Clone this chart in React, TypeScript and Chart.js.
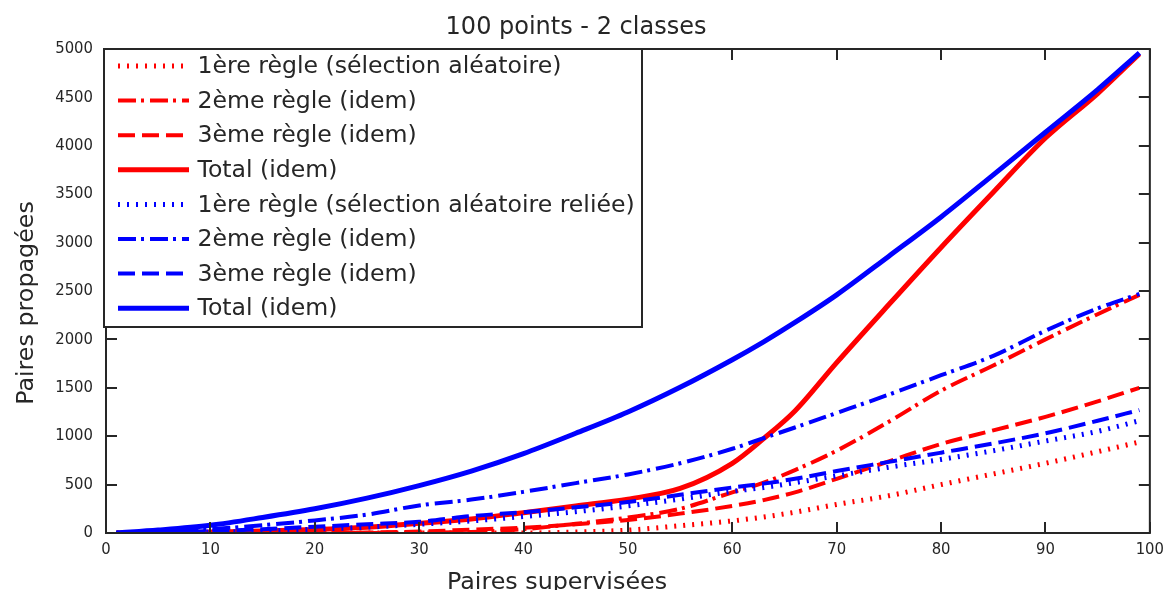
import React, { useEffect, useRef } from "react";
import { Chart, registerables } from "chart.js";

Chart.register(...registerables);

const TITLE = "100 points - 2 classes";
const X_LABEL = "Paires supervisées";
const Y_LABEL = "Paires propagées";

const xTicks = [0, 10, 20, 30, 40, 50, 60, 70, 80, 90, 100];
const yTicks = [0, 500, 1000, 1500, 2000, 2500, 3000, 3500, 4000, 4500, 5000];

const pairsSupervised = [1, 5, 10, 15, 20, 25, 30, 35, 40, 45, 50, 55, 60, 63, 66, 70, 75, 80, 85, 90, 95, 99];

// Sélection aléatoire (rouge)
const randRule1 = [0, 0, 0, 0, 0, 0, 0, 0, 0, 10, 30, 75, 125, 165, 215, 295, 385, 500, 610, 720, 840, 940];
const randRule2 = [0, 0, 0, 0, 0, 0, 5, 10, 40, 95, 160, 250, 420, 520, 650, 850, 1150, 1470, 1730, 2000, 2260, 2460];
const randRule3 = [0, 0, 0, 0, 0, 5, 15, 35, 55, 90, 135, 200, 280, 340, 420, 560, 740, 920, 1060, 1200, 1360, 1500];
const randTotal = [0, 0, 10, 20, 35, 60, 100, 145, 210, 280, 350, 460, 720, 975, 1260, 1760, 2360, 2950, 3520, 4080, 4540, 4950];

// Sélection aléatoire reliée (bleu)
const linkRule1 = [0, 0, 10, 20, 40, 60, 90, 125, 170, 220, 280, 350, 430, 470, 520, 590, 680, 760, 850, 950, 1050, 1160];
const linkRule2 = [0, 10, 40, 80, 130, 190, 285, 345, 425, 515, 605, 720, 870, 980, 1090, 1240, 1430, 1630, 1830, 2090, 2320, 2470];
const linkRule3 = [0, 5, 20, 40, 65, 90, 115, 175, 215, 265, 320, 395, 470, 510, 560, 640, 735, 830, 925, 1030, 1160, 1270];
const linkTotal = [0, 30, 80, 160, 250, 360, 490, 640, 820, 1030, 1250, 1505, 1790, 1975, 2175, 2460, 2860, 3265, 3700, 4140, 4580, 4960];

const LABELS = [
  "1ère règle (sélection aléatoire)",
  "2ème règle (idem)",
  "3ème règle (idem)",
  "Total (idem)",
  "1ère règle (sélection aléatoire reliée)",
  "2ème règle (idem)",
  "3ème règle (idem)",
  "Total (idem)",
];

const RED = "#ff0000";
const BLUE = "#0000ff";
const TEXT = "#262626";
const DOTTED = [2, 7];
const DASHDOT = [18, 5, 3, 6];
const DASHED = [17, 7];
const MAIN_FONT = '"DejaVu Sans", sans-serif';
const TICK_FONT = '"DejaVu Sans Condensed", "Liberation Sans Narrow", sans-serif';

const toPoints = (ys: number[]) => pairsSupervised.map((x, i) => ({ x, y: ys[i] }));

const decorPlugin = {
  id: "decor",
  afterDatasetsDraw(chart: any) {
    const { ctx, chartArea: a, scales } = chart;
    const xs = scales.x;
    const ys = scales.y;
    const TL = 11;
    ctx.save();
    ctx.strokeStyle = TEXT;
    ctx.lineWidth = 2;
    ctx.setLineDash([]);
    ctx.beginPath();
    xs.ticks.forEach((t: any) => {
      const px = Math.round(xs.getPixelForValue(t.value));
      ctx.moveTo(px, a.bottom);
      ctx.lineTo(px, a.bottom - TL);
      ctx.moveTo(px, a.top);
      ctx.lineTo(px, a.top + TL);
    });
    ys.ticks.forEach((t: any) => {
      const py = Math.round(ys.getPixelForValue(t.value));
      ctx.moveTo(a.left, py);
      ctx.lineTo(a.left + TL, py);
      ctx.moveTo(a.right, py);
      ctx.lineTo(a.right - TL, py);
    });
    ctx.stroke();
    ctx.strokeRect(a.left, a.top, a.right - a.left, a.bottom - a.top);

    // legend inside the plot area
    const bx = a.left - 2;
    const by = a.top;
    const bw = 538;
    const bh = 278;
    ctx.fillStyle = "#ffffff";
    ctx.fillRect(bx, by, bw, bh);
    ctx.strokeRect(bx, by, bw, bh);
    ctx.font = "23.6px " + MAIN_FONT;
    ctx.textBaseline = "middle";
    ctx.textAlign = "left";
    chart.data.datasets.forEach((ds: any, i: number) => {
      const y = by + 17 + i * 34.6;
      ctx.beginPath();
      ctx.strokeStyle = ds.borderColor;
      ctx.lineWidth = ds.borderWidth;
      ctx.lineCap = "butt";
      ctx.setLineDash(ds.borderDash || []);
      ctx.moveTo(a.left + 12, y);
      ctx.lineTo(a.left + 83, y);
      ctx.stroke();
      ctx.setLineDash([]);
      ctx.fillStyle = TEXT;
      ctx.fillText(ds.label, a.left + 91.5, y + 1);
    });
    ctx.restore();
  },
  afterDraw(chart: any) {
    const { ctx } = chart;
    ctx.save();
    ctx.fillStyle = TEXT;
    ctx.font = "24px " + MAIN_FONT;
    ctx.textAlign = "center";
    ctx.textBaseline = "alphabetic";
    ctx.fillText(TITLE, 576, 34);
    ctx.font = "23.8px " + MAIN_FONT;
    ctx.fillText(X_LABEL, 557, 589);
    ctx.translate(33, 303);
    ctx.rotate(-Math.PI / 2);
    ctx.fillText(Y_LABEL, 0, 0);
    ctx.restore();
  },
};

export default function App() {
  const ref = useRef<HTMLCanvasElement | null>(null);
  useEffect(() => {
    if (!ref.current) return;
    const mk = (label: string, ys: number[], color: string, dash: number[], width: number, order: number) => ({
      label,
      data: toPoints(ys),
      borderColor: color,
      backgroundColor: color,
      borderWidth: width,
      borderDash: dash,
      borderCapStyle: "butt",
      pointRadius: 0,
      fill: false,
      cubicInterpolationMode: "monotone",
      order,
    });
    const chart = new Chart(ref.current, {
      type: "line",
      data: {
        datasets: [
          mk(LABELS[0], randRule1, RED, DOTTED, 5, 1),
          mk(LABELS[1], randRule2, RED, DASHDOT, 4, 1),
          mk(LABELS[2], randRule3, RED, DASHED, 4, 1),
          mk(LABELS[3], randTotal, RED, [], 5, 1),
          mk(LABELS[4], linkRule1, BLUE, DOTTED, 5, 0),
          mk(LABELS[5], linkRule2, BLUE, DASHDOT, 4, 0),
          mk(LABELS[6], linkRule3, BLUE, DASHED, 4, 0),
          mk(LABELS[7], linkTotal, BLUE, [], 5, 0),
        ] as any,
      },
      options: {
        animation: false,
        responsive: true,
        maintainAspectRatio: false,
        layout: { padding: { left: 44, right: 18, top: 49, bottom: 26 } },
        plugins: {
          legend: { display: false },
          title: { display: false },
          tooltip: { enabled: false },
        },
        scales: {
          x: {
            type: "linear",
            min: 0,
            max: 100,
            afterBuildTicks: (s: any) => {
              s.ticks = xTicks.map((v) => ({ value: v }));
            },
            afterFit: (s: any) => {
              s.height = 31;
            },
            ticks: {
              color: TEXT,
              font: { family: TICK_FONT, size: 16.5 },
              padding: 7,
              maxRotation: 0,
              autoSkip: false,
              callback: (v: any) => String(v),
            },
            grid: { display: false, drawTicks: false },
            border: { display: false },
          },
          y: {
            type: "linear",
            min: 0,
            max: 5000,
            afterBuildTicks: (s: any) => {
              s.ticks = yTicks.map((v) => ({ value: v }));
            },
            afterFit: (s: any) => {
              s.width = 62;
            },
            ticks: {
              color: TEXT,
              font: { family: TICK_FONT, size: 16.5 },
              padding: 13,
              autoSkip: false,
              callback: (v: any) => String(v),
            },
            grid: { display: false, drawTicks: false },
            border: { display: false },
          },
        },
      },
      plugins: [decorPlugin],
    });
    return () => chart.destroy();
  }, []);
  return (
    <div style={{ position: "fixed", left: 0, top: 0, width: 1171, height: 590, background: "#fff" }}>
      <canvas ref={ref} />
    </div>
  );
}
